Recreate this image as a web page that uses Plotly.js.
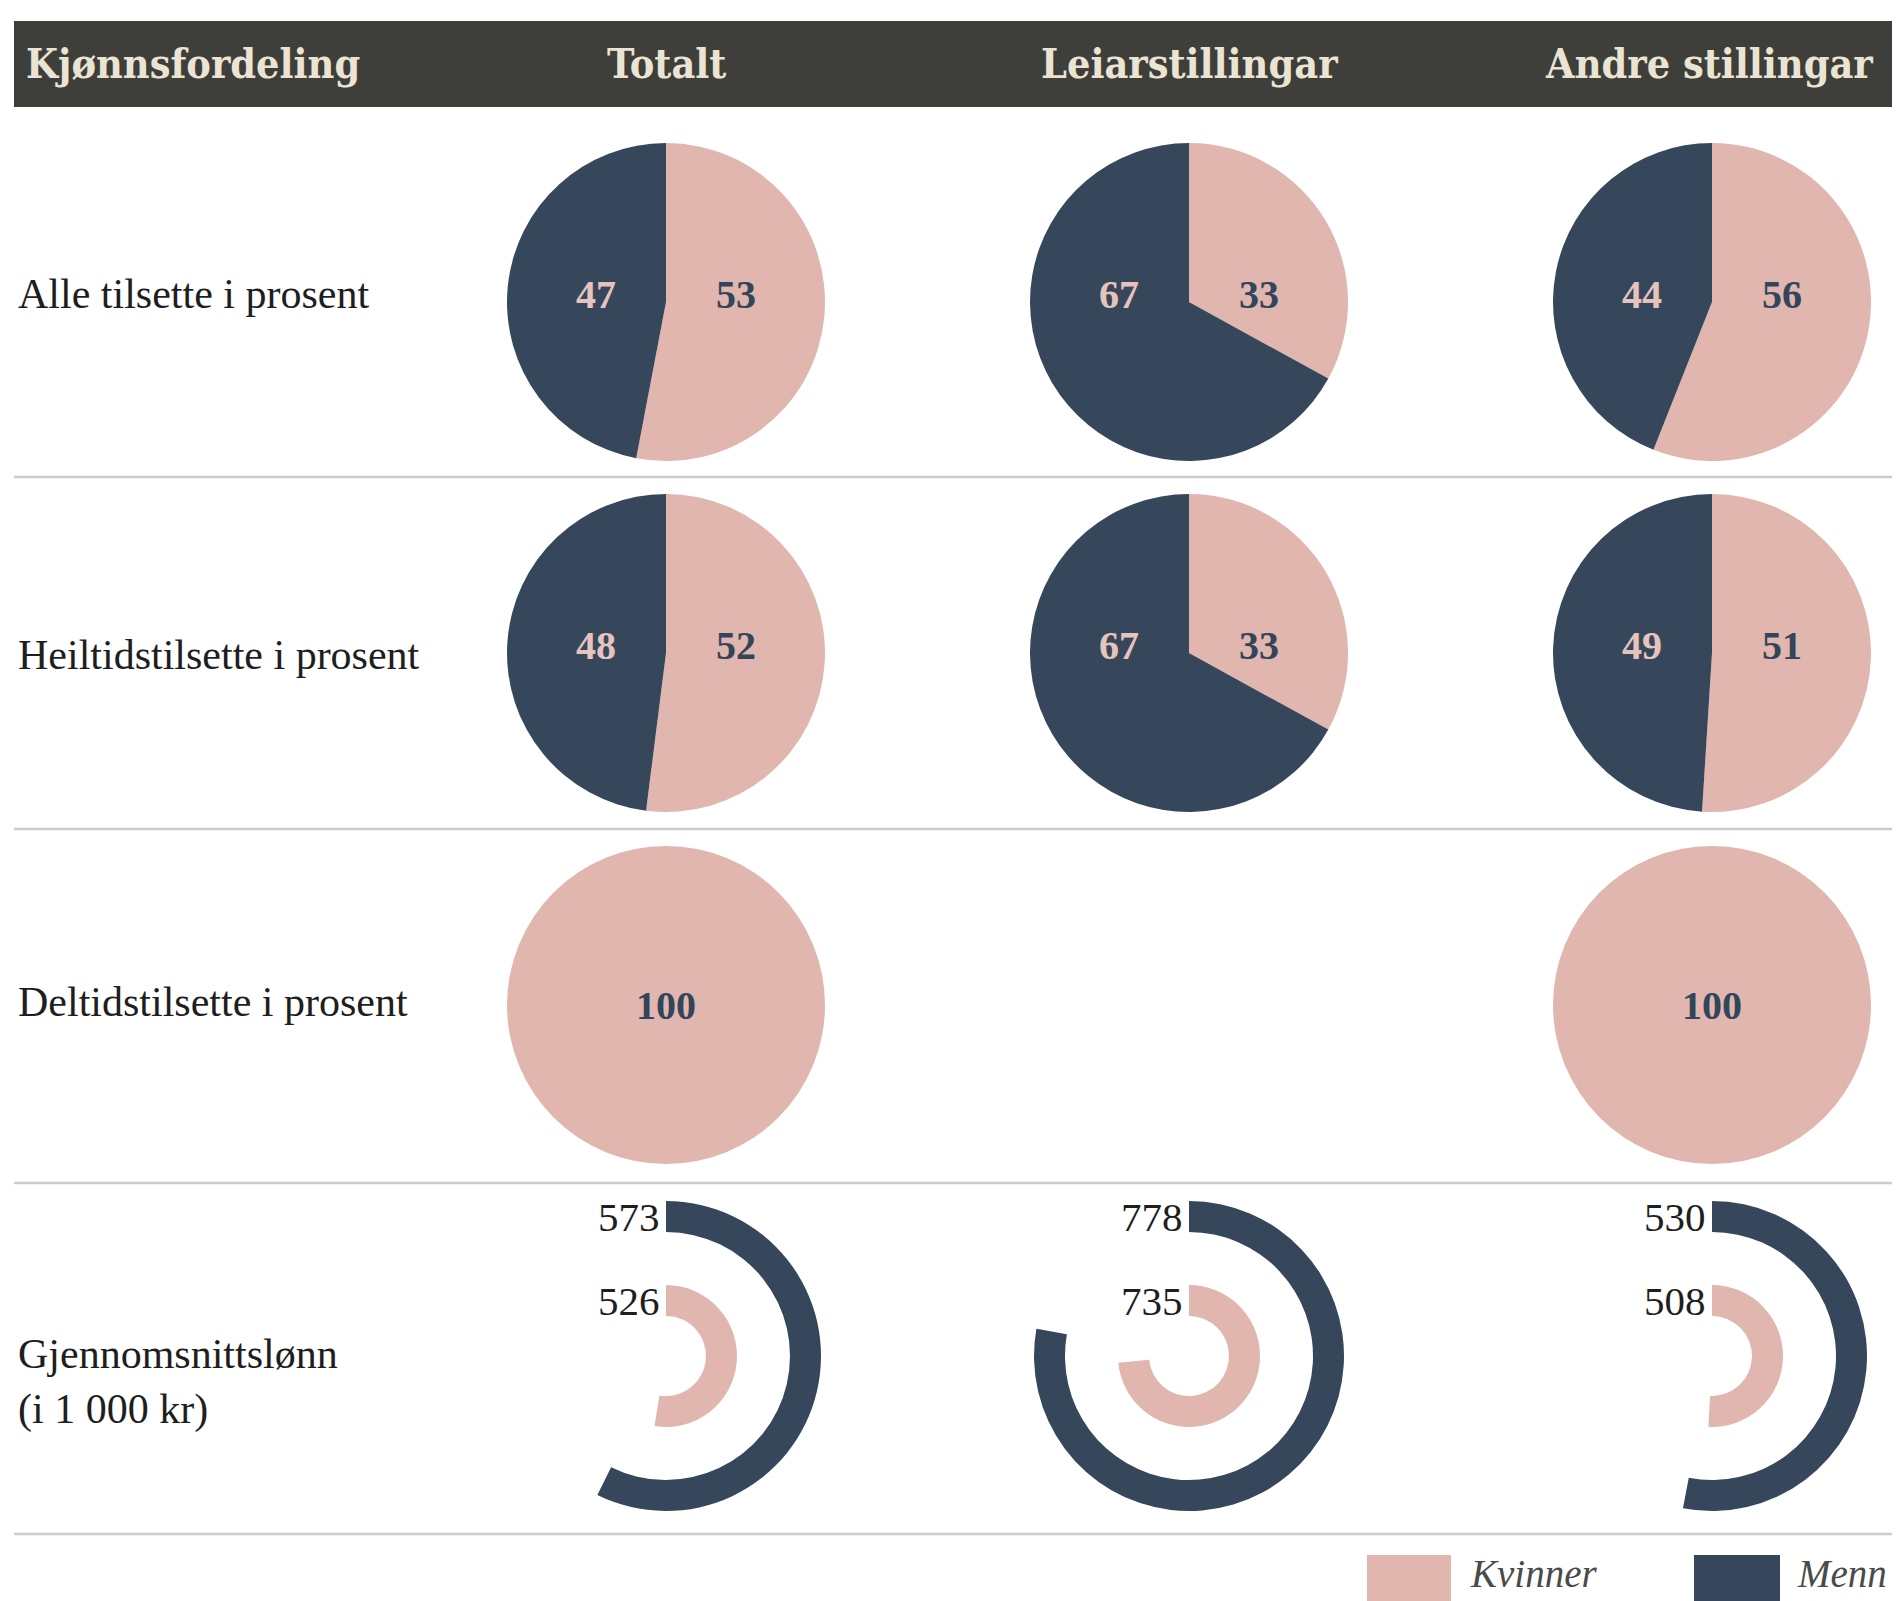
<!DOCTYPE html>
<html><head><meta charset="utf-8">
<script src="https://cdn.plot.ly/plotly-3.0.1.min.js"></script>
<style>html,body{margin:0;padding:0;background:#fff;} #chart{width:1898px;height:1601px;}</style>
</head><body><div id="chart"></div>
<script>
// ---------- data ----------
const headerLabel = 'Kjønnsfordeling';
const columns = ['Totalt', 'Leiarstillingar', 'Andre stillingar'];
const rowLabels = ['Alle tilsette i prosent', 'Heiltidstilsette i prosent', 'Deltidstilsette i prosent', 'Gjennomsnittslønn<br>(i 1 000 kr)'];
const seriesNames = ['Kvinner', 'Menn'];
const kvinnerAlle = [53, 33, 56];
const mennAlle = [47, 67, 44];
const kvinnerHeiltid = [52, 33, 51];
const mennHeiltid = [48, 67, 49];
const kvinnerDeltid = [100, null, 100];
const mennDeltid = [0, null, 0];
const lonnKvinner = [526, 735, 508];
const lonnMenn = [573, 778, 530];
const lonnFullCircle = 1000;

// ---------- layout constants ----------
const W = 1898, H = 1601;
const PINK = '#e0b6af', NAVY = '#36475b';
const PINK_TXT = '#e6c4bd', NAVY_TXT = '#33455a';
const colX = [666, 1189, 1712];
const rowY = [302, 653, 1005];
const ringY = 1356;
const pieR = 159;
const labelDX = 70, labelDY = -8;
const outerR = 155, outerW = 31;
const innerR = 71, innerW = 31;
const serif = 'Liberation Serif, Times New Roman, serif';

function dom(cx, cy, r) {
  return { x: [(cx - r) / W, (cx + r) / W], y: [1 - (cy + r) / H, 1 - (cy - r) / H] };
}

const traces = [];
const annotations = [];
const pieRows = [[kvinnerAlle, mennAlle], [kvinnerHeiltid, mennHeiltid], [kvinnerDeltid, mennDeltid]];
pieRows.forEach(([kv, me], ri) => {
  columns.forEach((col, ci) => {
    if (kv[ci] === null || me[ci] === null) return;
    const vals = [kv[ci], me[ci]];
    traces.push({
      type: 'pie', values: vals, labels: seriesNames, sort: false,
      direction: 'clockwise', rotation: 0,
      marker: { colors: [PINK, NAVY], line: { width: 0 } },
      textinfo: 'none',
      domain: dom(colX[ci], rowY[ri], pieR),
      showlegend: false, hoverinfo: 'label+value', name: col
    });
    const bold = { family: serif, size: 40, weight: 'bold' };
    if (me[ci] === 0 || kv[ci] === 0) {
      const full = kv[ci] > 0 ? kv[ci] : me[ci];
      annotations.push({ x: colX[ci], y: rowY[ri], text: String(full), xanchor: 'center',
        font: Object.assign({}, bold, { color: kv[ci] > 0 ? NAVY_TXT : PINK_TXT }) });
    } else {
      annotations.push({ x: colX[ci] + labelDX, y: rowY[ri] + labelDY, text: String(kv[ci]), xanchor: 'center',
        font: Object.assign({}, bold, { color: NAVY_TXT }) });
      annotations.push({ x: colX[ci] - labelDX, y: rowY[ri] + labelDY, text: String(me[ci]), xanchor: 'center',
        font: Object.assign({}, bold, { color: PINK_TXT }) });
    }
  });
});

// salary rings
columns.forEach((col, ci) => {
  traces.push({
    type: 'pie', values: [lonnMenn[ci], lonnFullCircle - lonnMenn[ci]], labels: ['Menn', ''],
    sort: false, direction: 'clockwise', rotation: 0, hole: 1 - outerW / outerR,
    marker: { colors: [NAVY, 'rgba(0,0,0,0)'], line: { width: 0 } },
    textinfo: 'none', domain: dom(colX[ci], ringY, outerR), showlegend: false, hoverinfo: 'skip'
  });
  traces.push({
    type: 'pie', values: [lonnKvinner[ci], lonnFullCircle - lonnKvinner[ci]], labels: ['Kvinner', ''],
    sort: false, direction: 'clockwise', rotation: 0, hole: 1 - innerW / innerR,
    marker: { colors: [PINK, 'rgba(0,0,0,0)'], line: { width: 0 } },
    textinfo: 'none', domain: dom(colX[ci], ringY, innerR), showlegend: false, hoverinfo: 'skip'
  });
});

const shapes = [
  { type: 'rect', xref: 'x', yref: 'y', x0: 14, x1: 1892, y0: 21, y1: 107, fillcolor: '#3e3f3b', line: { width: 0 }, layer: 'below' }
];
[477, 829, 1183, 1534].forEach(y => shapes.push({
  type: 'line', xref: 'x', yref: 'y', x0: 14, x1: 1892, y0: y, y1: y, line: { color: '#cdcdcd', width: 2.5 }
}));
// legend swatches
shapes.push({ type: 'rect', xref: 'x', yref: 'y', x0: 1367, x1: 1451, y0: 1555, y1: 1610, fillcolor: PINK, line: { width: 0 } });
shapes.push({ type: 'rect', xref: 'x', yref: 'y', x0: 1694, x1: 1780, y0: 1555, y1: 1610, fillcolor: NAVY, line: { width: 0 } });

const headFont = { family: 'DejaVu Serif Condensed, DejaVu Serif, serif', size: 41, weight: 'bold', color: '#ebe4d3' };
annotations.push(
  { x: 24, y: 64, text: headerLabel, xanchor: 'left', font: headFont },
  { x: colX[0], y: 64, text: columns[0], xanchor: 'center', font: headFont },
  { x: colX[1], y: 64, text: columns[1], xanchor: 'center', font: headFont },
  { x: 1709, y: 64, text: columns[2], xanchor: 'center', font: headFont }
);
const labelY = [294, 655, 1002, 1382];
rowLabels.forEach((t, i) => annotations.push({
  x: 16, y: labelY[i], text: t, xanchor: 'left', align: 'left',
  font: { family: serif, size: 42, color: '#1e1e1e' }
}));
columns.forEach((c, ci) => {
  annotations.push({ x: colX[ci] - 4, y: ringY - outerR + outerW / 2, text: String(lonnMenn[ci]), xanchor: 'right',
    font: { family: serif, size: 41, color: '#1e1e1e' } });
  annotations.push({ x: colX[ci] - 4, y: ringY - innerR + innerW / 2, text: String(lonnKvinner[ci]), xanchor: 'right',
    font: { family: serif, size: 41, color: '#1e1e1e' } });
});
annotations.push({ x: 1468, y: 1573, text: '<i>' + seriesNames[0] + '</i>', xanchor: 'left', font: { family: serif, size: 39, color: '#4a4a4a' } });
annotations.push({ x: 1795, y: 1573, text: '<i>' + seriesNames[1] + '</i>', xanchor: 'left', font: { family: serif, size: 39, color: '#4a4a4a' } });
annotations.forEach(a => { a.xref = 'x'; a.yref = 'y'; a.showarrow = false; a.yanchor = a.yanchor || 'middle'; });

const layout = {
  width: W, height: H, margin: { l: 0, r: 0, t: 0, b: 0 },
  paper_bgcolor: '#ffffff', plot_bgcolor: '#ffffff',
  xaxis: { range: [0, W], visible: false, fixedrange: true },
  yaxis: { range: [H, 0], visible: false, fixedrange: true },
  shapes: shapes, annotations: annotations, showlegend: false
};
Plotly.newPlot('chart', traces, layout, { displayModeBar: false, staticPlot: true });
</script>
</body></html>
